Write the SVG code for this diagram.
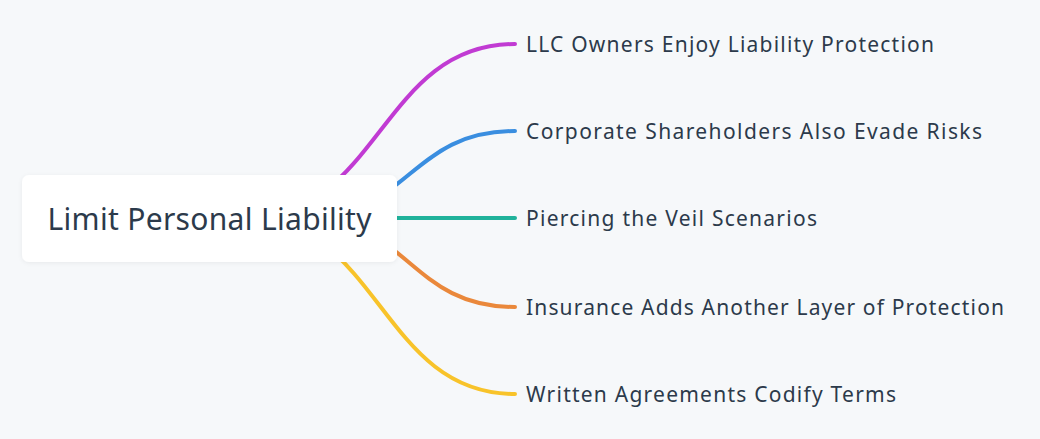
<svg xmlns="http://www.w3.org/2000/svg" width="1040" height="439" viewBox="0 0 1040 439">
<defs>
<filter id="sh" x="-10%" y="-20%" width="120%" height="140%"><feDropShadow dx="0" dy="1" stdDeviation="2" flood-color="#000" flood-opacity="0.06"/></filter>
</defs>
<style>
.edge{fill:none;stroke-width:4;stroke-linecap:round}
.lbl{font-family:"Noto Sans","DejaVu Sans",sans-serif;font-size:21px;fill:#2c3a4b}
.root{font-family:"Noto Sans","DejaVu Sans",sans-serif;font-size:30px;fill:#2c3a4b}
</style>
<rect width="1040" height="439" fill="#f6f8fa"/>
<g id="connectors">
<path class="edge" stroke="#c13bd3" d="M245 218 C380 218 380 44 515 44"/>
<path class="edge" stroke="#3a8ee0" d="M303 218 C409 218 409 131 515 131"/>
<path class="edge" stroke="#20b29b" d="M303 218 L515 218"/>
<path class="edge" stroke="#ea883b" d="M303 218 C409 218 409 307 515 307"/>
<path class="edge" stroke="#f8c32a" d="M245 218 C380 218 380 394 515 394"/>
</g>
<g id="root">
<rect x="22" y="175" width="375" height="87" rx="7" fill="#ffffff" filter="url(#sh)"/>
<text class="root" x="209.5" y="230" text-anchor="middle" textLength="324">Limit Personal Liability</text>
</g>
<g id="n1"><text class="lbl" x="526" y="52" textLength="408">LLC Owners Enjoy Liability Protection</text></g>
<g id="n2"><text class="lbl" x="526" y="139" textLength="456">Corporate Shareholders Also Evade Risks</text></g>
<g id="n3"><text class="lbl" x="526" y="226" textLength="291">Piercing the Veil Scenarios</text></g>
<g id="n4"><text class="lbl" x="526" y="315" textLength="478">Insurance Adds Another Layer of Protection</text></g>
<g id="n5"><text class="lbl" x="526" y="402" textLength="370">Written Agreements Codify Terms</text></g>
</svg>
